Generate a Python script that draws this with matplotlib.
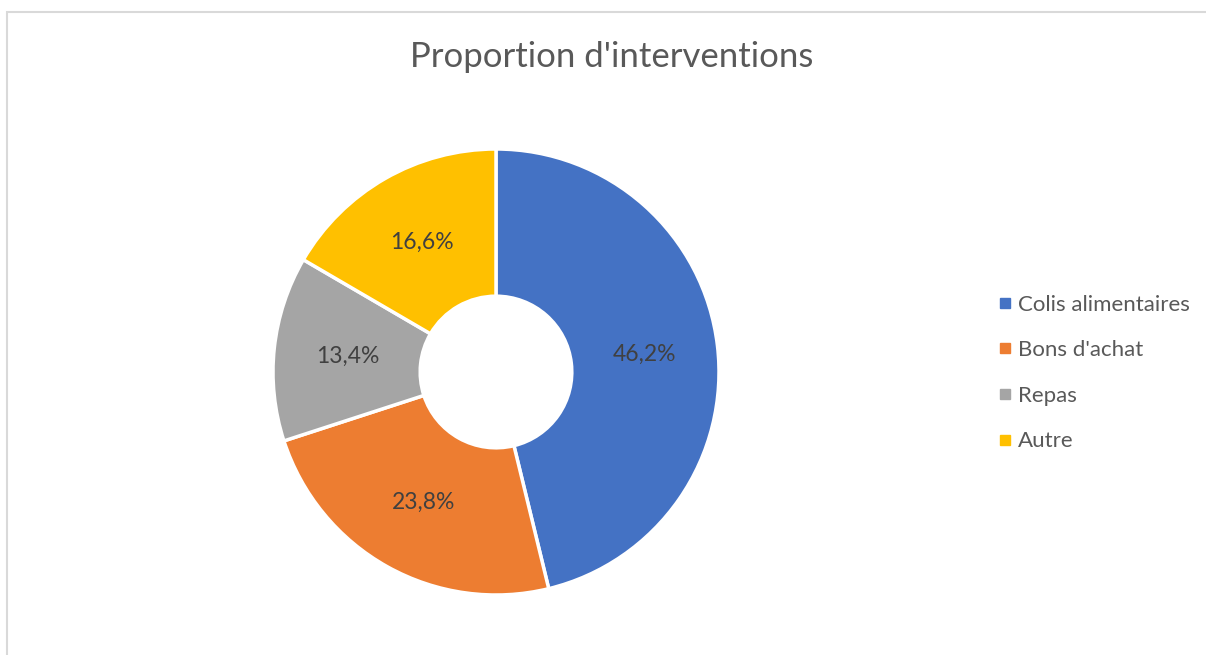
import matplotlib.pyplot as plt
from matplotlib.lines import Line2D
from matplotlib.patches import Rectangle
import numpy as np

categories = ["Colis alimentaires", "Bons d'achat", "Repas", "Autre"]
values = [46.2, 23.8, 13.4, 16.6]
labels = ["46,2%", "23,8%", "13,4%", "16,6%"]
colors = ["#4472C4", "#ED7D31", "#A5A5A5", "#FFC000"]

plt.rcParams['font.family'] = ['Lato', 'DejaVu Sans']

W, H = 1206, 655
fig = plt.figure(figsize=(W / 100, H / 100), dpi=100)

# light frame around the chart area
fig.patches.append(Rectangle((6.5 / W, -0.01), 1.1, (H - 12.5) / H + 0.01,
                             transform=fig.transFigure, fill=False,
                             edgecolor="#D9D9D9", linewidth=1.5))

cx, cy, r = 496, H - 372, 223
ax = fig.add_axes([(cx - r) / W, (cy - r) / H, 2 * r / W, 2 * r / H])

wedges, _ = ax.pie(values, colors=colors, startangle=90, counterclock=False,
                   radius=1, wedgeprops=dict(width=0.66, edgecolor="white", linewidth=2.5))

# percentage labels sit in the middle of the ring
for w, lab in zip(wedges, labels):
    ang = np.deg2rad((w.theta1 + w.theta2) / 2)
    rr = 1 - 0.33
    ax.text(rr * np.cos(ang), rr * np.sin(ang), lab, ha="center", va="center",
            fontsize=16.5, color="#404040")

ax.set_xlim(-1, 1)
ax.set_ylim(-1, 1)
ax.set_aspect("equal")
ax.axis("off")

fig.text(612 / W, 1 - 57 / H, "Proportion d'interventions", ha="center", va="center",
         fontsize=25, color="#595959")

handles = [Line2D([], [], marker="s", linestyle="", markersize=7,
                  markerfacecolor=c, markeredgecolor=c) for c in colors]
fig.legend(handles, categories, loc="center left", bbox_to_anchor=(999 / W, 1 - 373 / H),
           frameon=False, fontsize=16, labelcolor="#595959", handlelength=0.5,
           handletextpad=0.35, labelspacing=1.15, borderaxespad=0, borderpad=0)

fig.savefig("out.png", dpi=100, facecolor="white")
